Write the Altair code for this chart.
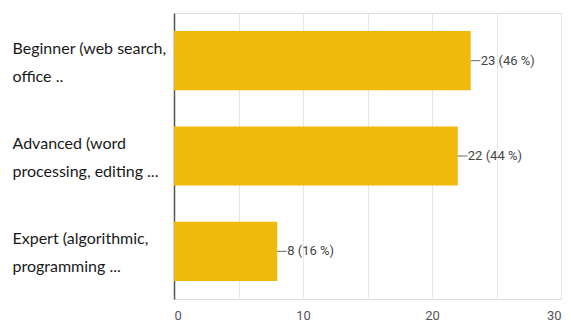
import altair as alt
import pandas as pd

categories = [
    "Beginner (web search,\noffice ..",
    "Advanced (word\nprocessing, editing ...",
    "Expert (algorithmic,\nprogramming ...",
]
counts = [23, 22, 8]
percents = [46, 44, 16]

df = pd.DataFrame({"category": categories, "count": counts, "pct": percents})
df["label"] = df["count"].astype(str) + " (" + df["pct"].astype(str) + " %)"

order = categories

y_enc = alt.Y(
    "category:N",
    sort=order,
    scale=alt.Scale(paddingInner=0.38, paddingOuter=0.19),
    axis=alt.Axis(
        title=None,
        ticks=False,
        domain=True,
        domainColor="#555555",
        domainWidth=1.5,
        labelAlign="left",
        labelPadding=162,
        labelBaseline="middle",
        labelOffset=-12,
        labelExpr="split(datum.label, '\\n')",
        labelFont="Lato",
        labelFontSize=16,
        labelLineHeight=28,
        labelColor="#1a1a1a",
        labelLimit=0,
        grid=False,
    ),
)

x_scale = alt.Scale(domain=[0, 30], nice=False)

bars = alt.Chart(df).mark_bar(color="#F1B90B").encode(
    x=alt.X(
        "count:Q",
        scale=x_scale,
        axis=alt.Axis(
            title=None,
            values=[0, 5, 10, 15, 20, 25, 30],
            labelExpr="datum.value % 10 == 0 ? datum.label : ''",
            ticks=False,
            domain=False,
            grid=True,
            gridColor="#e6e6e6",
            labelColor="#555555",
            labelFont="Roboto",
            labelFontSize=13,
            labelPadding=10,
        ),
    ),
    y=y_enc,
)

conn = alt.Chart(df).transform_calculate(
    end="datum.count + 0.75"
).mark_rule(color="#666666", strokeWidth=1).encode(
    x="count:Q",
    x2="end:Q",
    y=alt.Y("category:N", sort=order, bandPosition=0.5),
)

text = alt.Chart(df).mark_text(
    align="left", baseline="middle", dx=10, fontSize=13,
    font="Roboto", color="#444444"
).encode(
    x="count:Q",
    y=alt.Y("category:N", sort=order, bandPosition=0.5),
    text="label:N",
)

chart = alt.layer(bars, conn, text).properties(
    width=387,
    height=286,
    autosize=alt.AutoSizeParams(type="none"),
    padding={"left": 166, "top": 5, "right": 2, "bottom": 22},
).configure_view(stroke="#e6e6e6").configure(background="white")

chart.save("out.html", embed_options={"renderer": "svg", "actions": False})
